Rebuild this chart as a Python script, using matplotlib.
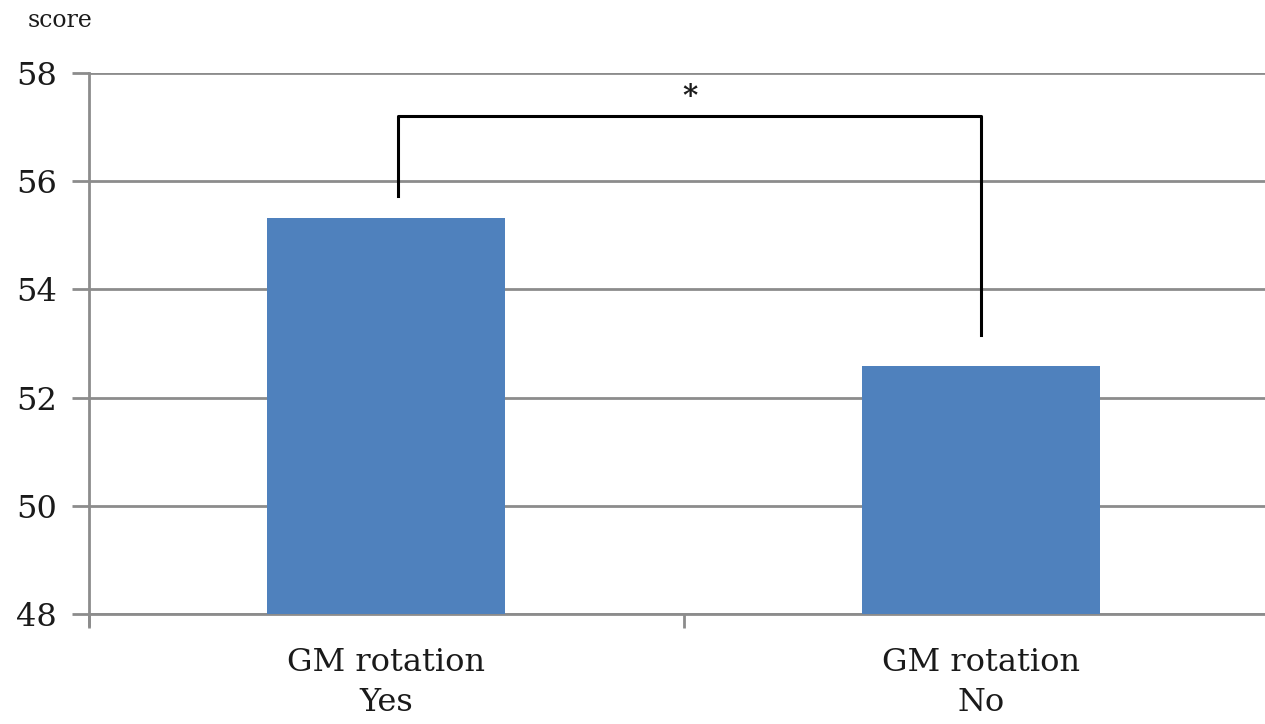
import matplotlib
matplotlib.use("Agg")
import matplotlib.pyplot as plt

categories = ["GM rotation\nYes", "GM rotation\nNo"]
scores = [55.33, 52.58]
# significance bracket: x of both legs, foot of each leg, top
bracket_x = [0.02, 1.0]
bracket_feet = [55.72, 53.15]
bracket_top = 57.2

BAR, GRID, INK = "#4f81bd", "#8c8c8c", "#1a1a1a"

plt.rcParams.update({
    "font.family": ["DejaVu Serif"],
    "text.color": INK,
    "xtick.color": GRID, "ytick.color": GRID,
    "xtick.labelcolor": INK, "ytick.labelcolor": INK,
})

fig = plt.figure(figsize=(12.65, 7.24), dpi=100)
ax = fig.add_axes([0.0704, 0.152, 0.94, 0.747])

x = range(len(categories))
ax.bar(x, [s - 48 for s in scores], bottom=48, width=0.4, color=BAR, zorder=3)

ax.set_xlim(-0.5, 1.5)
ax.set_ylim(48, 58)
ax.set_yticks(range(48, 59, 2))
ax.set_xticks([-0.5, 0.5, 1.5], minor=False)
ax.set_xticklabels([])
ax.set_xticks(list(x), minor=True)
ax.set_xticklabels(categories, minor=True, fontsize=23, linespacing=1.38)
ax.tick_params(axis="x", which="minor", length=0, pad=24)
ax.tick_params(axis="x", which="major", length=10, width=2)
ax.tick_params(axis="y", length=12, width=2, labelsize=23, pad=11)

ax.yaxis.grid(True, color=GRID, linewidth=2, zorder=0)
ax.set_axisbelow(True)
for side in ("top", "right"):
    ax.spines[side].set_visible(False)
ax.spines["bottom"].set_color(GRID)
ax.spines["bottom"].set_linewidth(2)
ax.spines["left"].set_color(GRID)
ax.spines["left"].set_linewidth(2)
ax.spines["left"].set_bounds(47.8, 58)

# significance bracket
ax.plot([bracket_x[0], bracket_x[0], bracket_x[1], bracket_x[1]],
        [bracket_feet[0], bracket_top, bracket_top, bracket_feet[1]],
        color="black", linewidth=2.2, zorder=4, clip_on=False)
ax.text(sum(bracket_x) / 2, bracket_top + 0.1, "*", ha="center", va="bottom",
        fontsize=21, fontweight="bold", color=INK)

fig.text(0.022, 0.972, "score", fontsize=17, ha="left", va="center", color=INK)

fig.savefig("out.png", dpi=100)
